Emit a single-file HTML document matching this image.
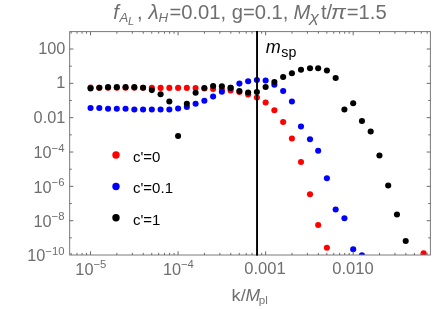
<!DOCTYPE html>
<html><head><meta charset="utf-8"><title>plot</title>
<style>html,body{margin:0;padding:0;background:#fff;}body{width:436px;height:309px;overflow:hidden;font-family:"Liberation Sans",sans-serif;}</style>
</head><body>
<svg width="436" height="309" viewBox="0 0 436 309" style="display:block;will-change:transform;font-family:'Liberation Sans',sans-serif">
<rect width="436" height="309" fill="#fff"/>
<defs><clipPath id="cp"><rect x="69.15" y="31.1" width="361.75" height="224.0"/></clipPath></defs>
<g clip-path="url(#cp)">
<g fill="#ff0000">
<circle cx="90.55" cy="87.60" r="3.05"/>
<circle cx="99.30" cy="87.70" r="3.05"/>
<circle cx="108.06" cy="87.80" r="3.05"/>
<circle cx="116.81" cy="87.80" r="3.05"/>
<circle cx="125.57" cy="87.80" r="3.05"/>
<circle cx="134.32" cy="87.80" r="3.05"/>
<circle cx="143.08" cy="87.70" r="3.05"/>
<circle cx="151.83" cy="87.90" r="3.05"/>
<circle cx="160.59" cy="87.90" r="3.05"/>
<circle cx="169.34" cy="87.90" r="3.05"/>
<circle cx="178.09" cy="87.90" r="3.05"/>
<circle cx="186.85" cy="87.90" r="3.05"/>
<circle cx="195.60" cy="88.00" r="3.05"/>
<circle cx="204.36" cy="88.50" r="3.05"/>
<circle cx="213.11" cy="89.00" r="3.05"/>
<circle cx="221.87" cy="89.50" r="3.05"/>
<circle cx="230.62" cy="90.50" r="3.05"/>
<circle cx="239.38" cy="92.00" r="3.05"/>
<circle cx="248.13" cy="94.50" r="3.05"/>
<circle cx="256.89" cy="97.50" r="3.05"/>
<circle cx="265.64" cy="102.50" r="3.05"/>
<circle cx="274.39" cy="110.25" r="3.05"/>
<circle cx="283.15" cy="122.00" r="3.05"/>
<circle cx="291.90" cy="138.50" r="3.05"/>
<circle cx="301.00" cy="162.00" r="3.05"/>
<circle cx="310.00" cy="194.25" r="3.05"/>
<circle cx="318.17" cy="225.00" r="3.05"/>
<circle cx="326.92" cy="247.75" r="3.05"/>
<circle cx="423.60" cy="253.30" r="3.05"/>
</g>
<g fill="#0000ff">
<circle cx="90.55" cy="108.00" r="3.05"/>
<circle cx="99.30" cy="108.00" r="3.05"/>
<circle cx="108.06" cy="108.75" r="3.05"/>
<circle cx="116.81" cy="108.75" r="3.05"/>
<circle cx="125.57" cy="108.75" r="3.05"/>
<circle cx="134.32" cy="109.50" r="3.05"/>
<circle cx="143.08" cy="109.50" r="3.05"/>
<circle cx="151.83" cy="109.50" r="3.05"/>
<circle cx="160.59" cy="109.50" r="3.05"/>
<circle cx="169.34" cy="109.50" r="3.05"/>
<circle cx="178.09" cy="108.50" r="3.05"/>
<circle cx="186.85" cy="107.00" r="3.05"/>
<circle cx="195.60" cy="103.75" r="3.05"/>
<circle cx="204.36" cy="100.75" r="3.05"/>
<circle cx="213.11" cy="96.50" r="3.05"/>
<circle cx="221.87" cy="91.75" r="3.05"/>
<circle cx="230.62" cy="87.90" r="3.05"/>
<circle cx="239.38" cy="83.60" r="3.05"/>
<circle cx="248.13" cy="81.25" r="3.05"/>
<circle cx="256.89" cy="80.00" r="3.05"/>
<circle cx="265.64" cy="80.50" r="3.05"/>
<circle cx="274.39" cy="84.75" r="3.05"/>
<circle cx="283.15" cy="91.00" r="3.05"/>
<circle cx="291.90" cy="101.50" r="3.05"/>
<circle cx="301.00" cy="126.50" r="3.05"/>
<circle cx="310.00" cy="139.30" r="3.05"/>
<circle cx="318.17" cy="150.75" r="3.05"/>
<circle cx="326.92" cy="178.25" r="3.05"/>
<circle cx="335.68" cy="209.50" r="3.05"/>
<circle cx="344.43" cy="218.25" r="3.05"/>
<circle cx="353.19" cy="249.25" r="3.05"/>
<circle cx="361.94" cy="255.30" r="3.05"/>
</g>
<g fill="#000000">
<circle cx="90.55" cy="88.40" r="3.05"/>
<circle cx="99.30" cy="87.80" r="3.05"/>
<circle cx="108.06" cy="87.15" r="3.05"/>
<circle cx="116.81" cy="87.15" r="3.05"/>
<circle cx="125.57" cy="87.15" r="3.05"/>
<circle cx="134.32" cy="87.15" r="3.05"/>
<circle cx="143.08" cy="87.75" r="3.05"/>
<circle cx="151.83" cy="90.10" r="3.05"/>
<circle cx="160.59" cy="94.25" r="3.05"/>
<circle cx="169.34" cy="101.50" r="3.05"/>
<circle cx="178.09" cy="136.00" r="3.05"/>
<circle cx="186.85" cy="103.75" r="3.05"/>
<circle cx="195.60" cy="92.75" r="3.05"/>
<circle cx="204.36" cy="88.00" r="3.05"/>
<circle cx="213.11" cy="86.00" r="3.05"/>
<circle cx="221.87" cy="86.30" r="3.05"/>
<circle cx="230.62" cy="87.90" r="3.05"/>
<circle cx="239.38" cy="91.10" r="3.05"/>
<circle cx="248.13" cy="92.50" r="3.05"/>
<circle cx="256.89" cy="92.00" r="3.05"/>
<circle cx="265.64" cy="87.00" r="3.05"/>
<circle cx="274.39" cy="82.00" r="3.05"/>
<circle cx="283.15" cy="77.00" r="3.05"/>
<circle cx="291.90" cy="73.25" r="3.05"/>
<circle cx="301.00" cy="69.75" r="3.05"/>
<circle cx="310.00" cy="68.25" r="3.05"/>
<circle cx="318.17" cy="68.25" r="3.05"/>
<circle cx="326.92" cy="70.50" r="3.05"/>
<circle cx="335.68" cy="78.00" r="3.05"/>
<circle cx="344.43" cy="109.50" r="3.05"/>
<circle cx="353.19" cy="103.25" r="3.05"/>
<circle cx="361.94" cy="121.00" r="3.05"/>
<circle cx="370.69" cy="131.50" r="3.05"/>
<circle cx="379.45" cy="155.50" r="3.05"/>
<circle cx="388.20" cy="185.50" r="3.05"/>
<circle cx="396.96" cy="214.50" r="3.05"/>
<circle cx="405.71" cy="241.00" r="3.05"/>
</g>
</g>
<rect x="69.65" y="31.6" width="360.75" height="223.40" fill="none" stroke="#7a7a7a" stroke-width="1"/>
<path d="M71.13 255.0v-2.1M71.13 31.6v2.1M76.99 255.0v-2.1M76.99 31.6v2.1M82.07 255.0v-2.1M82.07 31.6v2.1M86.54 255.0v-2.1M86.54 31.6v2.1M90.55 255.0v-3.7M90.55 31.6v3.7M116.9 255.0v-2.1M116.9 31.6v2.1M132.32 255.0v-2.1M132.32 31.6v2.1M143.26 255.0v-2.1M143.26 31.6v2.1M151.74 255.0v-2.1M151.74 31.6v2.1M158.67 255.0v-2.1M158.67 31.6v2.1M164.53 255.0v-2.1M164.53 31.6v2.1M169.61 255.0v-2.1M169.61 31.6v2.1M174.09 255.0v-2.1M174.09 31.6v2.1M178.09 255.0v-3.7M178.09 31.6v3.7M204.45 255.0v-2.1M204.45 31.6v2.1M219.86 255.0v-2.1M219.86 31.6v2.1M230.8 255.0v-2.1M230.8 31.6v2.1M239.29 255.0v-2.1M239.29 31.6v2.1M246.22 255.0v-2.1M246.22 31.6v2.1M252.08 255.0v-2.1M252.08 31.6v2.1M257.16 255.0v-2.1M257.16 31.6v2.1M261.63 255.0v-2.1M261.63 31.6v2.1M265.64 255.0v-3.7M265.64 31.6v3.7M291.99 255.0v-2.1M291.99 31.6v2.1M307.41 255.0v-2.1M307.41 31.6v2.1M318.35 255.0v-2.1M318.35 31.6v2.1M326.83 255.0v-2.1M326.83 31.6v2.1M333.76 255.0v-2.1M333.76 31.6v2.1M339.62 255.0v-2.1M339.62 31.6v2.1M344.7 255.0v-2.1M344.7 31.6v2.1M349.18 255.0v-2.1M349.18 31.6v2.1M353.19 255.0v-3.7M353.19 31.6v3.7M379.54 255.0v-2.1M379.54 31.6v2.1M394.95 255.0v-2.1M394.95 31.6v2.1M405.89 255.0v-2.1M405.89 31.6v2.1M414.38 255.0v-2.1M414.38 31.6v2.1M421.31 255.0v-2.1M421.31 31.6v2.1M427.17 255.0v-2.1M427.17 31.6v2.1M69.65 237.87h2.1M430.4 237.87h-2.1M69.65 220.7h3.7M430.4 220.7h-3.7M69.65 203.53h2.1M430.4 203.53h-2.1M69.65 186.36h3.7M430.4 186.36h-3.7M69.65 169.19h2.1M430.4 169.19h-2.1M69.65 152.02h3.7M430.4 152.02h-3.7M69.65 134.85h2.1M430.4 134.85h-2.1M69.65 117.68h3.7M430.4 117.68h-3.7M69.65 100.51h2.1M430.4 100.51h-2.1M69.65 83.34h3.7M430.4 83.34h-3.7M69.65 66.17h2.1M430.4 66.17h-2.1M69.65 49.0h3.7M430.4 49.0h-3.7" stroke="#6a6a6a" stroke-width="1" fill="none"/>
<line x1="257.05" y1="31" x2="257.05" y2="255.6" stroke="#000" stroke-width="1.95"/>
<g fill="#6e6e6e" font-size="16.3">
<text x="65.3" y="54.00" text-anchor="end">100</text>
<text x="65.3" y="88.34" text-anchor="end">1</text>
<text x="65.3" y="122.68" text-anchor="end">0.01</text>
<text x="64.5" y="158.22" text-anchor="end" font-size="16.3" fill="#6e6e6e">10<tspan font-size="11.3" dy="-6.6">−4</tspan></text>
<text x="64.5" y="192.56" text-anchor="end" font-size="16.3" fill="#6e6e6e">10<tspan font-size="11.3" dy="-6.6">−6</tspan></text>
<text x="64.5" y="226.90" text-anchor="end" font-size="16.3" fill="#6e6e6e">10<tspan font-size="11.3" dy="-6.6">−8</tspan></text>
<text x="64.5" y="261.24" text-anchor="end" font-size="16.3" fill="#6e6e6e">10<tspan font-size="11.3" dy="-6.6">−10</tspan></text>
<text x="90.85" y="275" text-anchor="middle" font-size="16.3" fill="#6e6e6e">10<tspan font-size="11.3" dy="-6.6">−5</tspan></text>
<text x="178.40" y="275" text-anchor="middle" font-size="16.3" fill="#6e6e6e">10<tspan font-size="11.3" dy="-6.6">−4</tspan></text>
<text x="265.04" y="274.2" text-anchor="middle" textLength="41.4" lengthAdjust="spacingAndGlyphs">0.001</text>
<text x="352.99" y="274.2" text-anchor="middle" textLength="41.4" lengthAdjust="spacingAndGlyphs">0.010</text>
</g>
<circle cx="116" cy="155" r="3.7" fill="#ff0000"/>
<text x="133" y="161.80" font-size="15" fill="#000">c'=0</text>
<circle cx="116" cy="186.5" r="3.7" fill="#0000ff"/>
<text x="133" y="193.30" font-size="15" fill="#000">c'=0.1</text>
<circle cx="116" cy="217.8" r="3.7" fill="#000000"/>
<text x="133" y="224.60" font-size="15" fill="#000">c'=1</text>
<text x="265.8" y="53.4" font-size="18" fill="#000" font-style="italic">m</text>
<text x="281.3" y="56.7" font-size="14.2" fill="#000">sp</text>
<text x="231.6" y="300.8" font-size="16.6" fill="#6e6e6e" textLength="14.2" lengthAdjust="spacingAndGlyphs">k/</text>
<text x="245.4" y="300.8" font-size="16.6" fill="#6e6e6e" font-style="italic" textLength="14.6" lengthAdjust="spacingAndGlyphs">M</text>
<text x="258.7" y="303.5" font-size="11.6" fill="#767676">pl</text>
<g fill="#6e6e6e">
<text x="113.2" y="18.8" font-size="20.2" font-style="italic">f</text>
<text x="119.5" y="21.6" font-size="13.2" font-style="italic">A</text>
<text x="127.9" y="25.3" font-size="11" font-style="italic">L</text>
<text x="136.9" y="18.8" font-size="20.2">,</text>
<text x="148.6" y="18.8" font-size="20.2" font-style="italic" textLength="10.2" lengthAdjust="spacingAndGlyphs">λ</text>
<text x="158.6" y="22.3" font-size="13.3" font-style="italic">H</text>
<text x="169.4" y="18.8" font-size="20.2">=0.01, g=0.1,</text>
<text x="293.5" y="18.8" font-size="20.2" font-style="italic">M</text>
<text x="309.6" y="22.400000000000002" font-size="15.2" font-style="italic" textLength="9.6" lengthAdjust="spacingAndGlyphs">χ</text>
<text x="320.9" y="18.8" font-size="20.2">t/</text>
<text x="331.0" y="18.8" font-size="20.2" font-style="italic" textLength="14.9" lengthAdjust="spacingAndGlyphs">π</text>
<text x="346.8" y="18.8" font-size="20.2">=1.5</text>
</g>
</svg>
</body></html>
